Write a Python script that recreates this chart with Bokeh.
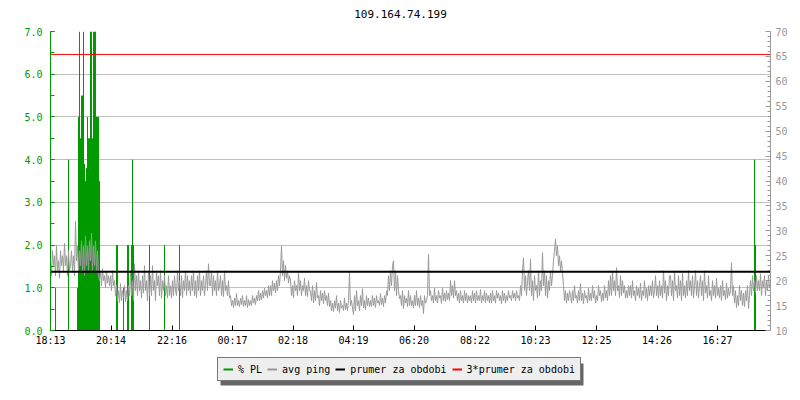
from bokeh.plotting import figure
from bokeh.layouts import column
from bokeh.models import (Range1d, LinearAxis, FixedTicker, SingleIntervalTicker,
                          Legend, LegendItem, PrintfTickFormatter, Label)
from bokeh.embed import file_html
from bokeh.resources import INLINE

# ---------------- data ----------------
title_text = "109.164.74.199"
start_clock = "18:13"
tick_labels = ["18:13", "20:14", "22:16", "00:17", "02:18", "04:19",
               "06:20", "08:22", "10:23", "12:25", "14:26", "16:27"]
step_min = 2          # minutes between ping samples
span_min = 1440       # 24 hours shown

# avg ping [ms], one value every 2 minutes starting 18:13
ping_ms = [
    24, 21, 26, 23, 25, 21, 27, 22, 24, 20.5, 26, 23, 25, 22, 27.5, 23, 25, 21, 26, 22,
    23, 26, 22, 25, 21, 32, 24, 27, 22, 26, 23, 28, 22, 27, 21, 29, 23, 27, 22, 28,
    24, 29.5, 22, 27, 23, 28, 21.5, 26, 21, 20, 22, 19, 22.4, 20, 21, 18.6, 22, 19.5, 21, 19,
    21, 18, 22, 19, 20, 17, 19, 16, 18, 15.6, 19.4, 16, 18, 16.5, 19, 15.8, 18, 16, 19, 17,
    22, 17, 20, 16, 23.4, 18, 21, 17, 22, 18, 20, 16.5, 21, 17.5, 23, 18, 20, 16, 22, 17,
    21, 17, 23, 18, 20, 16, 22, 19, 21, 17, 22, 16.5, 20, 18, 21, 17, 19, 16.5, 21, 17,
    19, 16.5, 20, 17, 21, 18, 17, 22, 18, 20, 17, 21, 16.6, 20, 18, 22, 17, 21, 18, 20,
    17, 21, 18, 22, 17, 20, 16.6, 21, 18, 22, 17, 20, 18, 21, 17, 19, 22, 18, 23.4, 19,
    19, 22, 17, 21, 18, 20, 17, 22, 18, 19, 21, 17, 20, 16.8, 22, 18, 19, 17, 20, 16.5,
    17, 15, 16, 14.6, 16.5, 15, 17.4, 15, 16, 14.8, 16.5, 15.2, 17, 14.8, 16, 15, 17, 14.6, 16.2, 15,
    16, 15, 17, 15.5, 16.5, 15.2, 17, 16, 18, 16, 17.5, 16.2, 18, 16.5, 18.5, 17, 18, 16.5, 19, 17,
    19, 17, 20, 18, 19.5, 17.5, 20, 18, 21, 19, 22, 27, 21, 24, 20, 23, 20.5, 22, 19.5, 21,
    20, 17, 19, 16.6, 20, 18, 19, 17, 21.6, 18, 20, 17, 19, 18, 20.5, 17, 19, 16.8, 20, 18,
    18, 16, 19, 15.5, 18, 16, 19.6, 16.5, 17, 15, 18, 16, 17.5, 15.4, 18, 16, 17, 15, 17.5, 14.8,
    16, 14, 15.5, 13.8, 16, 14.5, 17, 14, 15.5, 13.6, 16, 14.5, 15, 14, 16.5, 14.2, 15.5, 14, 16, 21.6,
    15, 16, 14.5, 13.2, 17, 14, 18, 15, 16, 14, 17, 15, 18.4, 14.5, 16, 14.2, 17, 15, 16.5, 14.8,
    16, 14.8, 17, 15, 16.5, 14.6, 17, 15.5, 16, 15, 17.4, 15.2, 16.5, 14.8, 17, 15.5, 18, 17, 21, 18,
    22, 19, 23, 24, 18, 22, 17, 21, 18, 16.4, 17, 15, 18, 14.4, 17, 15.5, 16.5, 14.8, 18, 15,
    17, 15, 16, 14.5, 17, 15, 18, 15, 16.5, 14.6, 17, 15, 16, 13.4, 17, 15.5, 16, 17, 25.3, 17,
    18, 16, 17, 15.5, 18.5, 16, 17, 15.5, 18, 16.5, 17, 15.4, 18.6, 16, 17.5, 15.8, 18, 16.2, 17.5, 16,
    20, 17, 19, 16.5, 20, 17, 18, 16, 17.5, 15.5, 18, 16, 17, 15.5, 18, 16, 17.5, 15.5, 17, 16,
    17, 15.5, 18, 16, 17.5, 15.5, 18, 16, 17, 16, 18.2, 15.5, 17, 16, 18, 15.6, 17.5, 16, 17, 15.5,
    17.5, 15.5, 18, 16, 17, 15.5, 18, 16.5, 17.5, 16, 17, 15.4, 18, 16, 17.5, 15.5, 17, 16, 18, 16.5,
    17, 16, 18, 16.5, 17.5, 16, 18, 16.5, 17, 16, 19, 17, 22, 24.6, 18, 21, 17, 20, 22, 18,
    24.3, 17, 20, 16, 21, 18, 19, 16.5, 22, 17, 20, 18, 25.6, 19, 22, 17, 21, 16.5, 20, 18,
    22, 19, 21, 24, 26, 28.3, 25, 27, 23, 25, 22, 24, 21.5, 19, 16, 18, 15.5, 17.5, 16, 18,
    17, 15.5, 18, 16, 19, 16.5, 17, 15.5, 18, 16, 19.4, 16, 17.5, 15.4, 18, 16.5, 17, 15.5, 18.5, 16,
    17.5, 16, 19, 16.5, 18, 15.5, 17, 16, 19, 17, 18, 15.8, 17.5, 16, 19, 16.5, 18, 16, 20, 17,
    21, 17, 22, 18, 20, 17, 22.6, 18, 19, 16.6, 21, 17, 20, 17.5, 19, 16.5, 18, 16.5, 19, 17,
    19, 16.5, 20, 17, 18, 16, 19, 17, 18.5, 16.5, 19.5, 16, 18, 17, 20, 16.5, 18.5, 16, 19, 17,
    19, 17, 20, 16.5, 18, 21, 17, 19, 16.5, 20, 17, 19, 16.5, 22, 17.5, 20, 16, 19, 17, 21,
    21, 17, 20, 16, 22, 18, 19, 16.5, 21, 17, 20, 16, 21.5, 17, 19, 16.5, 20, 17, 22, 18,
    20, 17, 21, 16.5, 19, 22, 17, 20, 16.5, 19, 21, 17, 20, 16, 22, 17.5, 19, 16.5, 21, 17,
    18, 16, 20, 17, 19, 16.5, 20.5, 17, 18.5, 16.5, 19, 16, 20, 17, 18, 16.2, 19.5, 16.5, 18.5, 17,
    18, 23.6, 17, 19, 15.5, 18, 14.6, 17, 15, 19, 16, 18, 15, 17.5, 14.8, 18, 16, 19, 14.4, 17,
    20, 17, 21, 18, 20, 17.5, 21, 18, 20, 18, 21.4, 17, 20, 18.5, 21, 17, 20, 18, 21, 18.5,
]

# packet loss [%] (minutes after start, value)
pl_minutes = [10, 36,
              54, 56, 58, 60, 62, 64, 66, 68, 70, 72, 74, 76,
              78, 80, 82, 84, 86, 88, 90, 92, 94, 96, 98,
              132, 134, 146, 154, 156, 162, 164, 166, 198, 228, 258,
              1408, 1410]
pl_percent = [1.0, 4.0,
              1.0, 5.0, 7.0, 4.5, 5.5, 5.5, 7.0, 3.9, 3.5, 3.8, 5.0, 4.5,
              4.5, 7.0, 7.0, 4.5, 7.0, 7.0, 7.0, 5.0, 5.0, 5.0, 3.5,
              2.0, 2.0, 1.0, 2.0, 2.0, 2.0, 4.0, 2.0, 2.0, 2.0, 2.0,
              4.0, 2.0]

mean_ping = 21.8              # prumer za obdobi
triple_mean = 3 * mean_ping   # 3*prumer za obdobi

legend_labels = ["% PL", "avg ping", "prumer za obdobi", "3*prumer za obdobi"]

# ---------------- derived ----------------
def to_min(s):
    h, m = s.split(":")
    return int(h) * 60 + int(m)

base = to_min(start_clock)
tick_pos = [(to_min(t) - base) % 1440 for t in tick_labels]
ping_x = [i * step_min for i in range(len(ping_ms))]
nan = float("nan")

GREEN = "#009900"
GRAY = "#999999"
RED = "#ff0000"
MONO = "DejaVu Sans Mono"
W = 792
BL, BR = 50, 22            # left / right border -> plot area 50..770

# ---------------- title strip ----------------
TH = 24
tp = figure(width=W, height=TH, output_backend="svg", toolbar_location=None,
            title=None, x_range=Range1d(BL, W - BR), y_range=Range1d(0, TH),
            min_border_left=BL, min_border_right=BR, min_border_top=0,
            min_border_bottom=0, outline_line_color=None,
            x_axis_location=None, y_axis_location=None,
            background_fill_color="white", border_fill_color="white")
tp.grid.visible = False
tp.add_layout(Label(x=400, y=TH - 13, text=title_text, text_align="center",
                    text_baseline="middle", text_font=MONO,
                    text_font_size="11px", text_color="black"))

# ---------------- main chart ----------------
p = figure(width=W, height=324, output_backend="svg", toolbar_location=None,
           title=None, x_range=Range1d(0, span_min), y_range=Range1d(0, 7),
           min_border_left=BL, min_border_right=BR, min_border_top=7,
           min_border_bottom=18, outline_line_color=None,
           background_fill_color="white", border_fill_color="white")
p.extra_y_ranges = {"ping": Range1d(10, 70)}

p.xgrid.visible = False
p.ygrid.grid_line_color = "#c0c0c0"

ya = p.yaxis[0]
ya.ticker = SingleIntervalTicker(interval=1, num_minor_ticks=2)
ya.formatter = PrintfTickFormatter(format="%.1f")
ya.axis_line_color = GREEN
ya.major_tick_line_color = GREEN
ya.minor_tick_line_color = GREEN
ya.major_tick_in = 4
ya.major_tick_out = 0
ya.minor_tick_in = 4
ya.minor_tick_out = 0
ya.major_label_text_color = GREEN
ya.major_label_text_font = MONO
ya.major_label_text_font_size = "10px"
ya.major_label_standoff = 8

ra = LinearAxis(y_range_name="ping",
                ticker=SingleIntervalTicker(interval=5, num_minor_ticks=5))
ra.axis_line_color = GRAY
ra.major_tick_line_color = GRAY
ra.minor_tick_line_color = GRAY
ra.major_tick_in = 5
ra.major_tick_out = 0
ra.minor_tick_in = 3
ra.minor_tick_out = 0
ra.major_label_text_color = GRAY
ra.major_label_text_font = MONO
ra.major_label_text_font_size = "10px"
ra.major_label_standoff = 5
p.add_layout(ra, "right")

xa = p.xaxis[0]
xa.ticker = FixedTicker(ticks=tick_pos, minor_ticks=[])
xa.major_label_overrides = {t: l for t, l in zip(tick_pos, tick_labels)}
xa.axis_line_color = "black"
xa.major_tick_line_color = "black"
xa.major_tick_in = 5
xa.major_tick_out = 0
xa.minor_tick_line_color = None
xa.major_label_text_color = "black"
xa.major_label_text_font = MONO
xa.major_label_text_font_size = "10px"
xa.major_label_standoff = 4

p.segment(x0=pl_minutes, y0=0, x1=pl_minutes, y1=pl_percent,
          line_color=GREEN, line_width=1)
p.line(ping_x, ping_ms, y_range_name="ping", line_color=GRAY, line_width=1)
p.line([0, span_min], [mean_ping, mean_ping], y_range_name="ping",
       line_color="black", line_width=2)
p.line([0, span_min], [triple_mean, triple_mean], y_range_name="ping",
       line_color=RED, line_width=1)

# ---------------- legend strip ----------------
LH = 44
lp = figure(width=W, height=LH, output_backend="svg", toolbar_location=None,
            title=None, x_range=Range1d(BL, W - BR), y_range=Range1d(0, LH),
            min_border_left=BL, min_border_right=BR, min_border_top=0,
            min_border_bottom=0, outline_line_color=None,
            x_axis_location=None, y_axis_location=None,
            background_fill_color="white", border_fill_color="white")
lp.grid.visible = False

leg_x, leg_y, leg_w, leg_h = 217, 11, 363, 22
lp.quad(left=leg_x + 3, right=leg_x + 3 + leg_w, bottom=leg_y - 4,
        top=leg_y - 4 + leg_h, fill_color="#666666", line_color=None)

samples = [lp.line([0, 1], [nan, nan], line_color=c, line_width=2)
           for c in (GREEN, GRAY, "black", RED)]
legend = Legend(items=[LegendItem(label=l, renderers=[r])
                       for l, r in zip(legend_labels, samples)],
                orientation="horizontal", location=(leg_x - BL, leg_y))
legend.label_text_font = MONO
legend.label_text_font_size = "10px"
legend.label_text_color = "black"
legend.label_height = 12
legend.glyph_height = 12
legend.glyph_width = 10
legend.label_standoff = 5
legend.spacing = 5
legend.padding = 5
legend.margin = 0
legend.border_line_color = "black"
legend.border_line_width = 1
legend.background_fill_color = "#eeeeee"
legend.background_fill_alpha = 1
lp.add_layout(legend, "center")

open("out.html", "w").write(file_html(column(tp, p, lp), INLINE))
